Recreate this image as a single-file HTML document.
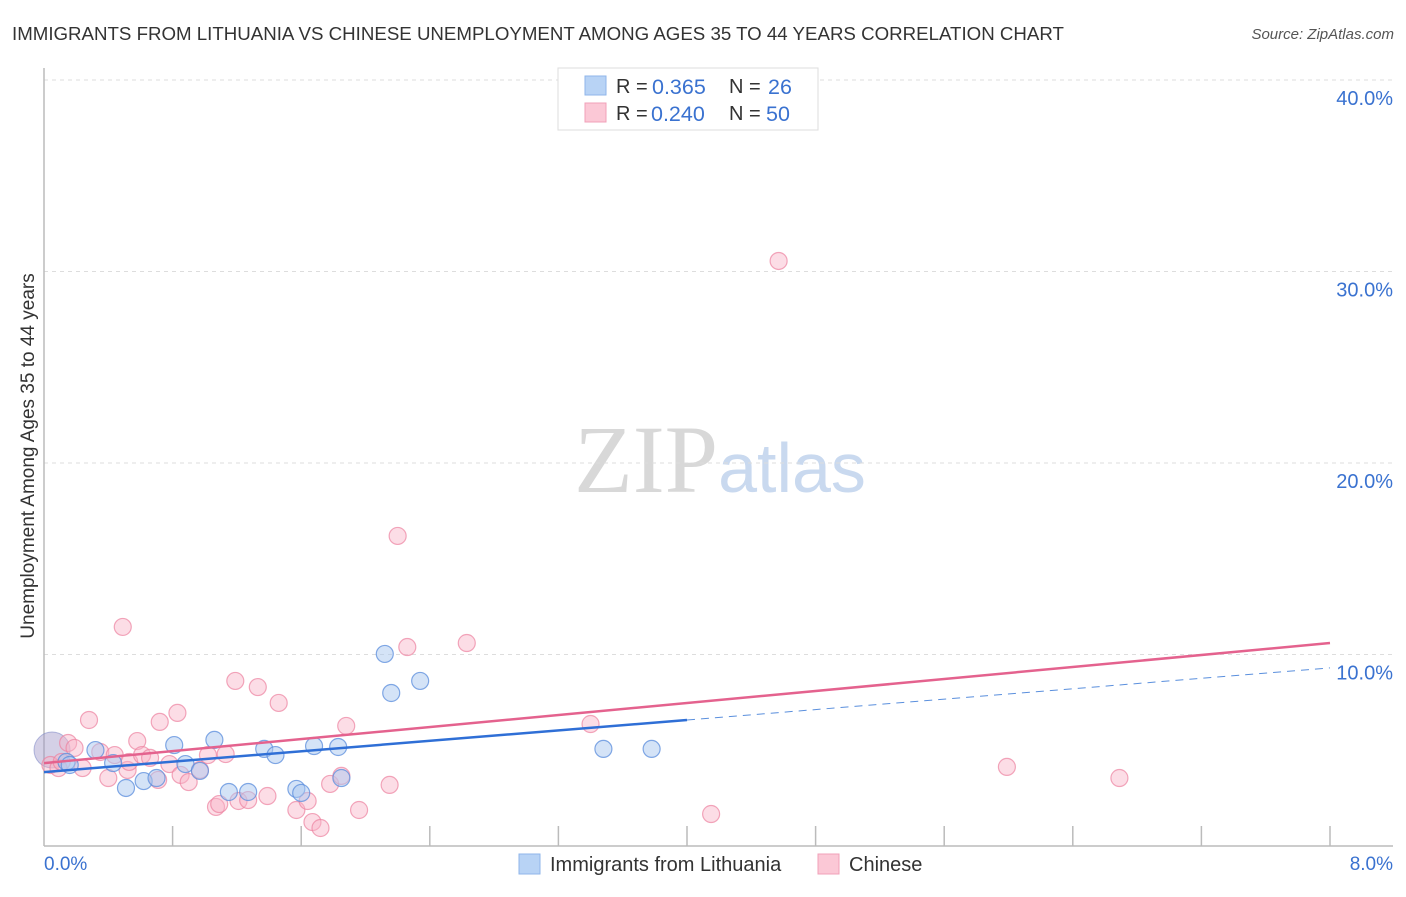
<!DOCTYPE html>
<html><head><meta charset="utf-8"><style>
body{margin:0;background:#fff;font-family:"Liberation Sans",sans-serif;}
svg text{font-family:"Liberation Sans",sans-serif;}
</style></head><body>
<svg id="chart" width="1406" height="892" xmlns="http://www.w3.org/2000/svg">
<text x="12" y="40" font-size="18.7" fill="#333">IMMIGRANTS FROM LITHUANIA VS CHINESE UNEMPLOYMENT AMONG AGES 35 TO 44 YEARS CORRELATION CHART</text>
<text x="1394" y="39" font-size="15" fill="#555" font-style="italic" text-anchor="end">Source: ZipAtlas.com</text>
<text transform="translate(34,456) rotate(-90)" font-size="19" fill="#333" text-anchor="middle">Unemployment Among Ages 35 to 44 years</text>
<text x="720" y="492" font-size="96" fill="#ddd" text-anchor="middle" font-family="Liberation Serif"><tspan font-family="Liberation Serif" fill="#d8d8d8">ZIP</tspan><tspan font-family="Liberation Sans" fill="#c9d9ef" font-size="70">atlas</tspan></text>
<g id="grid"></g><g id="axes"></g><g id="marks"></g>
<g>
<rect x="558" y="68" width="260" height="62" fill="#fff" stroke="#ddd"/>
<rect x="585" y="76" width="21" height="19" fill="#b8d3f5" stroke="#8fb6ea"/>
<text x="616" y="93" font-size="20" fill="#333">R = </text><text x="652" y="94" font-size="21.5" fill="#3a72d0">0.365</text>
<text x="729" y="93" font-size="20" fill="#333">N = </text><text x="768" y="94" font-size="21.5" fill="#3a72d0">26</text>
<rect x="585" y="103" width="21" height="19" fill="#fbc8d6" stroke="#f0a0b8"/>
<text x="616" y="120" font-size="20" fill="#333">R = </text><text x="651" y="121" font-size="21.5" fill="#3a72d0">0.240</text>
<text x="729" y="120" font-size="20" fill="#333">N = </text><text x="766" y="121" font-size="21.5" fill="#3a72d0">50</text>
</g>
<g>
<rect x="519" y="854" width="21" height="20" fill="#b8d3f5" stroke="#8fb6ea"/>
<text x="550" y="871" font-size="20" fill="#333">Immigrants from Lithuania</text>
<rect x="818" y="854" width="21" height="20" fill="#fbc8d6" stroke="#f0a0b8"/>
<text x="849" y="871" font-size="20" fill="#333">Chinese</text>
</g>
</svg>
<script>
const yTicks=[10,20,30,40];
const yTickLabels=["10.0%","20.0%","30.0%","40.0%"];
const xTickCount=10;
const blueX=[0.14,0.16,0.32,0.43,0.51,0.62,0.70,0.81,0.88,0.97,1.06,1.15,1.27,1.37,1.44,1.57,1.60,1.68,1.83,1.85,2.12,2.16,2.34,3.48,3.78];
const blueY=[4.39,4.23,5.01,4.33,3.03,3.39,3.55,5.27,4.28,3.92,5.54,2.82,2.82,5.07,4.75,2.98,2.77,5.22,5.17,3.55,10.03,7.99,8.62,5.07,5.07];
const pinkX=[0.04,0.09,0.11,0.15,0.19,0.24,0.28,0.35,0.40,0.44,0.49,0.52,0.53,0.58,0.61,0.66,0.71,0.72,0.78,0.83,0.85,0.90,0.97,1.02,1.07,1.09,1.13,1.19,1.21,1.27,1.33,1.39,1.46,1.57,1.64,1.67,1.72,1.78,1.85,1.88,1.96,2.15,2.20,2.26,2.63,3.40,4.15,4.57,5.99,6.69];
const pinkY=[4.23,4.07,4.39,5.38,5.12,4.07,6.58,4.91,3.55,4.75,11.44,3.97,4.39,5.48,4.75,4.60,3.45,6.48,4.28,6.95,3.71,3.34,3.97,4.75,2.04,2.19,4.80,8.62,2.35,2.40,8.30,2.61,7.47,1.88,2.35,1.25,0.94,3.24,3.66,6.27,1.88,3.19,16.19,10.39,10.60,6.37,1.67,30.55,4.13,3.55];
const bigBlue=[0.05,5.01];
const blueTrend=[3.86,0.68];
const pinkTrend=[4.33,0.784];
const xs=v=>44+v*160.75, ys=v=>846-v*19.15;
const NS="http://www.w3.org/2000/svg";
function mk(tag,attrs,parent){const e=document.createElementNS(NS,tag);for(const k in attrs)e.setAttribute(k,attrs[k]);parent.appendChild(e);return e;}
const grid=document.getElementById('grid'),axes=document.getElementById('axes'),marks=document.getElementById('marks');
yTicks.forEach((t,i)=>{
 const l=mk('line',{x1:44,x2:1393,y1:ys(t),y2:ys(t),stroke:'#ddd','stroke-dasharray':'4,4'},grid);
 
 
 const tx=mk('text',{x:1393,y:ys(t)+25,'font-size':20,fill:'#3a72d0','text-anchor':'end'},axes);
 tx.textContent=yTickLabels[i];
 
 
});
const yax=mk('line',{x1:44,x2:44,y1:68,y2:846,stroke:'#bbb','stroke-width':1.5},axes);


const xax=mk('line',{x1:44,x2:1393,y1:846,y2:846,stroke:'#bbb','stroke-width':1.5},axes);


for(let i=1;i<=xTickCount;i++){const x=xs(i*0.8);const t=mk('line',{x1:x,x2:x,y1:826,y2:846,stroke:'#bbb','stroke-width':1.5},axes);
 
 }
const xl0=mk('text',{x:44,y:870,'font-size':19,fill:'#3a72d0'},axes);xl0.textContent='0.0%';


const xl1=mk('text',{x:1393,y:870,'font-size':19,fill:'#3a72d0','text-anchor':'end'},axes);xl1.textContent='8.0%';


const bb=mk('circle',{cx:xs(bigBlue[0]),cy:ys(bigBlue[1]),r:18,fill:'rgba(160,150,200,0.45)',stroke:'rgba(130,140,200,0.6)'},marks);


pinkX.forEach((x,i)=>{const c=mk('circle',{cx:xs(x),cy:ys(pinkY[i]),r:8.5,fill:'rgba(248,180,200,0.45)',stroke:'rgba(236,130,160,0.7)','stroke-width':1.2},marks);
 
 });
blueX.forEach((x,i)=>{const c=mk('circle',{cx:xs(x),cy:ys(blueY[i]),r:8.5,fill:'rgba(170,200,240,0.5)',stroke:'rgba(90,140,220,0.75)','stroke-width':1.2},marks);
 
 });
const bl=mk('line',{x1:xs(0),y1:ys(blueTrend[0]),x2:xs(4),y2:ys(blueTrend[0]+4*blueTrend[1]),stroke:'#2f6fd6','stroke-width':2.5},marks);


const bd=mk('line',{x1:xs(4),y1:ys(blueTrend[0]+4*blueTrend[1]),x2:xs(8),y2:ys(blueTrend[0]+8*blueTrend[1]),stroke:'#5a8fdd','stroke-width':1,'stroke-dasharray':'8,6'},marks);


const pl=mk('line',{x1:xs(0),y1:ys(pinkTrend[0]),x2:xs(8),y2:ys(pinkTrend[0]+8*pinkTrend[1]),stroke:'#e4628e','stroke-width':2.5},marks);


</script>
</body></html>
